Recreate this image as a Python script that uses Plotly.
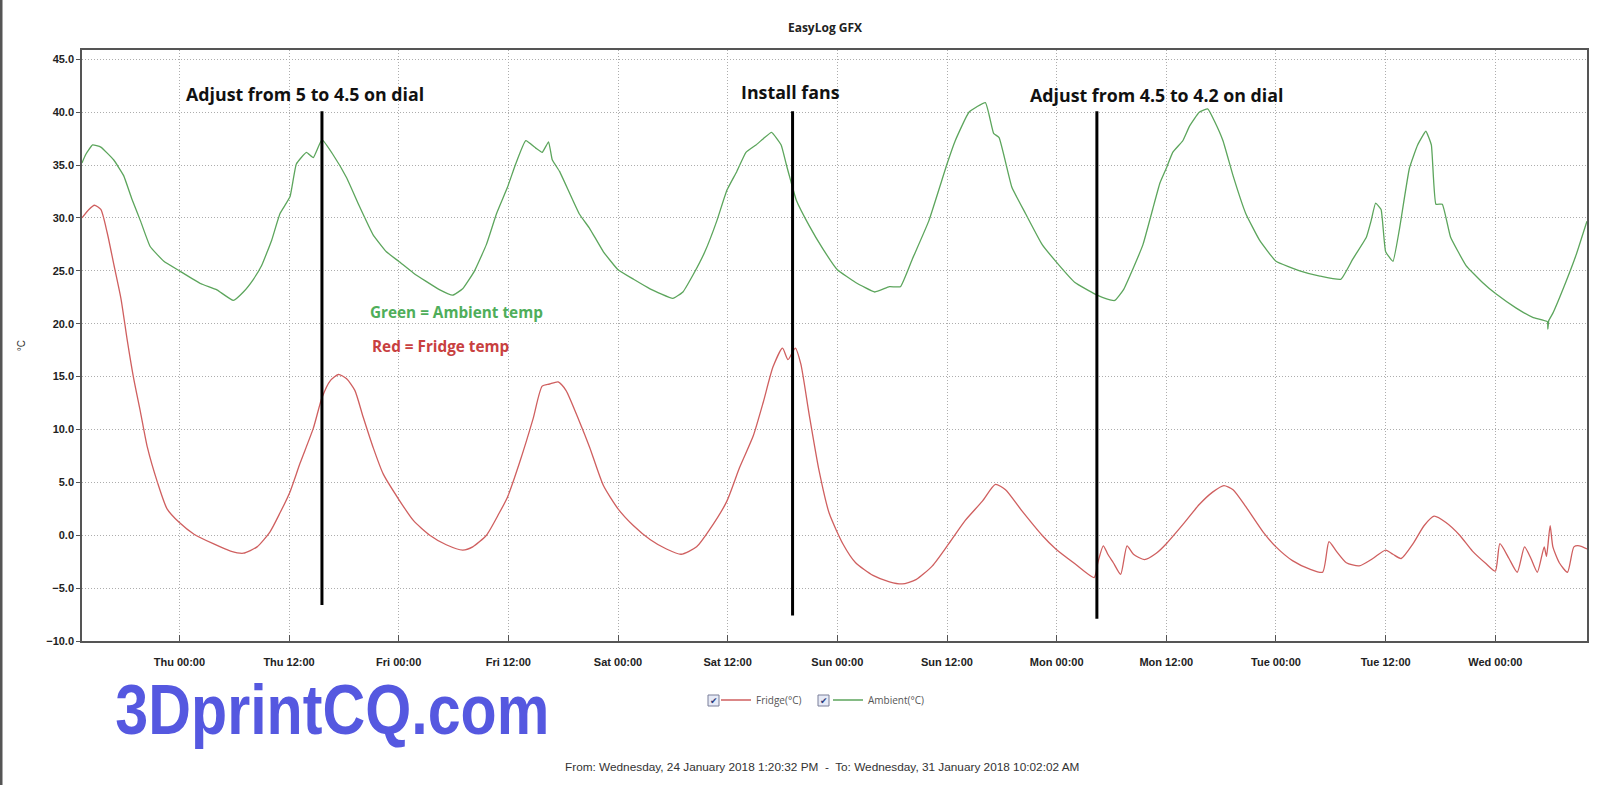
import pandas as pd
import plotly.graph_objects as go

# ---------------- data (hours relative to Thu 25 Jan 2018 00:00) ----------------
BASE = "2018-01-25 00:00:00"
START = "2018-01-24 13:20:32"
END = "2018-01-31 10:02:02"

ambient_hours = [
    -10.66, -10.25, -9.5, -8.6, -7.2, -6.1, -5.2, -4.25, -3.2, -1.7,
    0.0, 2.3, 4.1, 5.9, 7.0, 8.1, 9.0, 10.1, 11.0, 12.1,
    12.8, 13.9, 14.65, 15.6, 16.8, 18.3, 19.7, 21.2, 22.65, 24.0,
    25.6, 27.0, 28.5, 29.9, 31.0, 32.3, 33.6, 34.7, 35.9, 36.8,
    37.9, 39.0, 39.7, 40.4, 40.8, 41.6, 43.75, 44.9, 46.4, 48.0,
    49.7, 51.5, 54.0, 55.1, 56.2, 57.5, 58.8, 59.9, 61.0, 62.0,
    63.1, 63.9, 64.8, 65.85, 66.4, 66.9, 67.5, 68.9, 70.4, 72.0,
    74.0, 76.1, 77.7, 78.9, 80.2, 82.0, 84.0, 84.9, 86.4, 88.2,
    89.1, 89.7, 91.1, 92.6, 94.4, 95.9, 98.0, 100.2, 101.0, 102.35,
    103.3, 104.4, 105.45, 106.5, 107.3, 108.0, 108.7, 109.8, 110.55, 111.6,
    112.55, 113.3, 114.2, 115.3, 116.7, 118.2, 120.0, 122.6, 124.8, 127.1,
    128.4, 129.9, 130.4, 130.9, 131.5, 132.0, 132.8, 133.5, 134.6, 135.5,
    136.4, 137.0, 137.5, 138.2, 139.1, 140.8, 142.6, 144.1, 146.25, 148.1,
    149.7, 149.75, 149.85, 150.3, 151.7, 152.8, 154.03,
]
ambient_temp = [
    35.2, 36.0, 36.9, 36.7, 35.5, 34.0, 31.8, 29.7, 27.3, 25.9,
    25.0, 23.8, 23.2, 22.2, 23.0, 24.2, 25.5, 27.9, 30.4, 32.0,
    35.1, 36.2, 35.7, 37.4, 36.0, 33.8, 31.1, 28.4, 26.8, 25.9,
    24.8, 24.0, 23.2, 22.7, 23.3, 25.0, 27.5, 30.4, 32.9, 35.1,
    37.3, 36.6, 36.2, 37.2, 35.5, 34.4, 30.4, 29.0, 26.8, 25.1,
    24.2, 23.3, 22.4, 23.0, 24.6, 26.8, 29.7, 32.6, 34.4, 36.2,
    36.9, 37.5, 38.1, 36.9, 35.1, 33.5, 31.7, 29.3, 27.1, 25.1,
    23.9, 23.0, 23.5, 23.5, 26.1, 29.7, 35.1, 37.3, 40.0, 40.9,
    38.0, 37.6, 32.9, 30.4, 27.5, 25.9, 23.9, 22.8, 22.5, 22.2,
    23.2, 25.3, 27.5, 30.8, 33.3, 34.7, 36.2, 37.3, 38.7, 40.0,
    40.3, 39.1, 37.3, 34.0, 30.4, 27.9, 25.9, 25.0, 24.5, 24.2,
    26.1, 28.2, 29.7, 31.4, 30.8, 26.8, 25.9, 28.9, 34.7, 36.9,
    38.2, 36.9, 31.3, 31.3, 28.2, 25.5, 23.9, 22.8, 21.5, 20.6,
    20.2, 19.5, 20.3, 21.0, 23.9, 26.4, 29.7,
]

fridge_hours = [
    -10.66, -9.9, -9.3, -8.6, -7.9, -7.2, -6.4, -5.7, -5.0, -4.25,
    -3.5, -2.4, -1.35, 0.0, 1.6, 3.7, 5.6, 7.0, 8.5, 9.9,
    11.0, 12.1, 13.2, 14.65, 15.6, 16.5, 17.4, 18.3, 19.2, 20.1,
    21.2, 22.3, 24.0, 25.6, 27.4, 29.2, 31.0, 32.1, 33.6, 35.0,
    35.9, 37.2, 38.7, 39.7, 40.5, 41.45, 42.3, 43.75, 44.9, 46.4,
    48.0, 49.7, 51.5, 53.3, 54.9, 56.6, 58.0, 59.9, 61.3, 62.8,
    63.9, 64.95, 66.0, 66.6, 67.4, 68.0, 68.9, 70.0, 71.1, 72.6,
    74.0, 75.9, 77.7, 79.1, 80.6, 82.4, 84.2, 86.0, 87.85, 89.3,
    90.4, 92.2, 94.4, 95.9, 98.0, 100.1, 100.5, 101.1, 101.6, 102.2,
    103.0, 103.7, 104.4, 105.6, 106.9, 108.0, 109.8, 111.6, 113.1, 114.3,
    115.3, 116.7, 118.6, 120.0, 121.8, 123.7, 125.1, 125.8, 126.6, 127.7,
    129.1, 130.6, 132.0, 132.8, 133.7, 135.0, 136.2, 137.3, 138.6, 140.1,
    141.5, 143.0, 144.0, 144.5, 145.5, 146.4, 147.2, 147.9, 148.6, 149.35,
    149.6, 150.0, 150.3, 151.0, 151.9, 152.6, 153.2, 154.03,
]
fridge_temp = [
    30.0, 30.8, 31.2, 30.8, 28.6, 25.7, 22.4, 18.4, 14.8, 11.6,
    8.3, 5.0, 2.5, 1.2, 0.1, -0.8, -1.5, -1.7, -1.1, 0.3,
    2.1, 4.1, 6.8, 10.1, 13.0, 14.6, 15.2, 14.8, 13.7, 11.2,
    8.3, 5.8, 3.4, 1.4, 0.0, -0.9, -1.4, -1.1, 0.0, 2.1,
    3.6, 6.8, 11.0, 14.1, 14.3, 14.5, 13.7, 10.8, 8.3, 4.7,
    2.5, 0.9, -0.4, -1.3, -1.8, -1.1, 0.5, 3.2, 6.4, 9.4,
    12.6, 15.9, 17.7, 16.6, 17.7, 16.2, 11.5, 6.1, 2.1, -0.8,
    -2.6, -3.8, -4.4, -4.6, -4.2, -2.9, -0.8, 1.4, 3.2, 4.8,
    4.3, 2.3, 0.0, -1.3, -2.7, -4.0, -2.6, -1.0, -1.8, -2.6,
    -3.7, -1.0, -1.8, -2.3, -1.7, -0.8, 1.0, 2.9, 4.1, 4.7,
    4.3, 2.7, 0.3, -1.1, -2.4, -3.2, -3.5, -0.6, -1.5, -2.6,
    -2.9, -2.2, -1.4, -1.8, -2.2, -0.8, 0.9, 1.8, 1.2, 0.0,
    -1.5, -2.7, -3.4, -0.8, -2.2, -3.5, -1.1, -2.2, -3.5, -1.1,
    -2.0, 0.9, -1.1, -2.6, -3.5, -1.1, -1.0, -1.3,
]

# annotated events: vertical marker lines
event_hours = [15.6, 67.1, 100.4]
event_top = [40.1, 40.1, 40.1]
event_bottom = [-6.6, -7.6, -7.9]
event_labels = ["Adjust from 5 to 4.5 on dial", "Install fans", "Adjust from 4.5 to 4.2 on dial"]
event_label_hours = [13.74, 66.9, 106.9]
event_label_temp = [41.7, 41.95, 41.6]

series_names = ["Fridge(°C)", "Ambient(°C)"]
series_colors = ["#cf5f5f", "#5ca55c"]

# ---------------- figure ----------------
W, H = 1600, 785
ML, MR, MT, MB = 82, 13, 50, 144
PW, PH = W - ML - MR, H - MT - MB


def px_x(px):
    return (px - ML) / PW


def px_y(py):
    return (H - MB - py) / PH


base = pd.Timestamp(BASE)


def to_time(hours):
    return [base + pd.Timedelta(hours=h) for h in hours]


fig = go.Figure()
fig.add_trace(go.Scatter(x=to_time(fridge_hours), y=fridge_temp, mode="lines",
                         name=series_names[0],
                         line=dict(color=series_colors[0], width=1.3, shape="spline", smoothing=0.6)))
fig.add_trace(go.Scatter(x=to_time(ambient_hours), y=ambient_temp, mode="lines",
                         name=series_names[1],
                         line=dict(color=series_colors[1], width=1.3, shape="spline", smoothing=0.35)))

shapes = []
for h, y0, y1 in zip(event_hours, event_bottom, event_top):
    t = base + pd.Timedelta(hours=h)
    shapes.append(dict(type="line", xref="x", yref="y", x0=t, x1=t, y0=y0, y1=y1,
                       line=dict(color="black", width=3)))

# checkboxes next to legend entries
for bx in [708, 818]:
    shapes.append(dict(type="rect", xref="paper", yref="paper",
                       x0=px_x(bx), x1=px_x(bx + 11), y0=px_y(706), y1=px_y(695),
                       line=dict(color="#7a7f99", width=1), fillcolor="#e6eaf6"))
# left frame edge of the screenshot
shapes.append(dict(type="line", xref="paper", yref="paper", x0=px_x(1), x1=px_x(1),
                   y0=px_y(H), y1=px_y(0), line=dict(color="#555555", width=3)))

annotations = []
for lab, h, v in zip(event_labels, event_label_hours, event_label_temp):
    annotations.append(dict(x=base + pd.Timedelta(hours=h), y=v, xref="x", yref="y",
                            text=lab, showarrow=False, xanchor="center", yanchor="middle",
                            font=dict(family="Open Sans", size=17.8, color="#111111", weight="bold")))
annotations.append(dict(x=px_x(456), y=px_y(312), xref="paper", yref="paper",
                        text="Green = Ambient temp", showarrow=False,
                        xanchor="center", yanchor="middle",
                        font=dict(family="Open Sans", size=15.3, color="#4fae5a", weight="bold")))
annotations.append(dict(x=px_x(440), y=px_y(346), xref="paper", yref="paper",
                        text="Red = Fridge temp", showarrow=False,
                        xanchor="center", yanchor="middle",
                        font=dict(family="Open Sans", size=15.3, color="#c8403f", weight="bold")))
for bx in [708, 818]:
    annotations.append(dict(x=px_x(bx + 5.5), y=px_y(700.5), xref="paper", yref="paper",
                            text="✔", showarrow=False, xanchor="center", yanchor="middle",
                            font=dict(family="DejaVu Sans", size=9, color="#2a3a7a")))
annotations.append(dict(x=px_x(822), y=px_y(767), xref="paper", yref="paper",
                        text="From: Wednesday, 24 January 2018 1:20:32 PM  -  To: Wednesday, 31 January 2018 10:02:02 AM",
                        showarrow=False, xanchor="center", yanchor="middle",
                        font=dict(family="Liberation Sans", size=11.8, color="#333333")))
annotations.append(dict(x=px_x(332), y=px_y(709), xref="paper", yref="paper",
                        text="3DprintCQ.com", showarrow=False,
                        xanchor="center", yanchor="middle",
                        font=dict(family="Liberation Sans", size=71, color="#5558e0", weight="bold")))

fig.update_layout(
    width=W, height=H,
    margin=dict(l=ML, r=MR, t=MT, b=MB, pad=0),
    paper_bgcolor="white", plot_bgcolor="white",
    title=dict(text="<b>EasyLog GFX</b>", x=px_x(825), xref="paper", xanchor="center",
               y=1 - 27.5 / H, yanchor="middle",
               font=dict(family="Open Sans", size=12, color="#222222")),
    showlegend=True,
    legend=dict(orientation="h", x=px_x(716), xanchor="left", y=px_y(700), yanchor="middle",
                entrywidth=67, entrywidthmode="pixels", itemwidth=30,
                font=dict(family="Open Sans", size=10, color="#555555"),
                bgcolor="rgba(0,0,0,0)", borderwidth=0, tracegroupgap=0),
    shapes=shapes,
    annotations=annotations,
    xaxis=dict(
        range=[START, END], type="date",
        tick0="2018-01-25 00:00:00", dtick=12 * 3600 * 1000,
        tickformat="%a %H:%M",
        ticks="inside", ticklen=6, tickcolor="#555555",
        ticklabelstandoff=10,
        tickfont=dict(family="Liberation Sans", size=11, color="#222222", weight="bold"),
        showgrid=True, gridcolor="#adadad", griddash="1px,2px", gridwidth=1,
        showline=True, linecolor="#555555", linewidth=1.5, mirror=True,
        zeroline=False, fixedrange=True, automargin=False,
    ),
    yaxis=dict(
        range=[-10, 45.88], tick0=-10, dtick=5, tickformat=".1f",
        ticks="outside", ticklen=4, tickcolor="#555555",
        tickfont=dict(family="Liberation Sans", size=11, color="#222222", weight="bold"),
        title=dict(text="°C", standoff=19, font=dict(family="Liberation Sans", size=10, color="#333333")),
        showgrid=True, gridcolor="#adadad", griddash="1px,2px", gridwidth=1,
        showline=True, linecolor="#555555", linewidth=1.5, mirror=True,
        zeroline=False, fixedrange=True, automargin=False,
    ),
)

post = """
document.body.style.margin = '0px';
document.body.style.overflow = 'hidden';
var gd = document.getElementById('{plot_id}');
gd.querySelectorAll('text.annotation-text').forEach(function (t) {
  if (t.textContent === '3DprintCQ.com') {
    t.setAttribute('textLength', '434');
    t.setAttribute('lengthAdjust', 'spacingAndGlyphs');
  }
});
"""

fig.write_html("out.html", post_script=post, config={"displayModeBar": False})
